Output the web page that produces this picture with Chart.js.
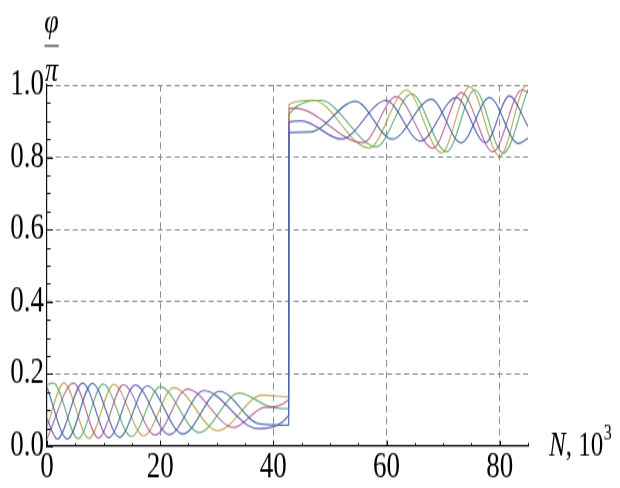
<!DOCTYPE html>
<html>
<head>
<meta charset="utf-8">
<script src="https://cdn.jsdelivr.net/npm/chart.js@4"></script>
<style>
  html, body { margin: 0; padding: 0; background: #fff; }
</style>
</head>
<body>
<!-- the reference is stretched vertically, so the chart is drawn 620x362 and shown at 620x488 -->
<canvas id="myChart" width="620" height="362" style="width:620px;height:488px;display:block"></canvas>
<script>
// axis ticks
const nTicks = [0, 20, 40, 60, 80];
const nMinorTicks = [5, 10, 15, 25, 30, 35, 45, 50, 55, 65, 70, 75, 85];
const phiTicks = [0, 0.2, 0.4, 0.6, 0.8, 1.0];
const phiMinorTicks = [0.05, 0.1, 0.15, 0.25, 0.3, 0.35, 0.45, 0.5, 0.55, 0.65, 0.7, 0.75, 0.85, 0.9, 0.95];

// curves: N (in 10^3) and phi/pi, read at the turning points
const nBlue = [0, 1.8, 6.3, 10.9, 15.6, 21.6, 27.7, 37.2, 42.7, 42.75, 45.0, 52.0, 59.9, 66.0, 72.3, 77.5, 81.7, 85];
const phiBlue = [0.076, 0.020, 0.175, 0.024, 0.169, 0.032, 0.154, 0.049, 0.085, 0.897, 0.901, 0.850, 0.957, 0.845, 0.965, 0.840, 0.970, 0.885];

const nMagenta = [0, 4.7, 9.1, 13.5, 19.1, 24.8, 33.0, 38.5, 42.7, 42.75, 44.0, 55.8, 61.7, 68.2, 73.2, 78.8, 83.9, 85];
const phiMagenta = [0.021, 0.175, 0.023, 0.170, 0.031, 0.158, 0.052, 0.108, 0.129, 0.935, 0.935, 0.840, 0.968, 0.825, 0.979, 0.815, 0.986, 0.980];

const nOlive = [0, 3.0, 7.4, 11.8, 17.1, 22.4, 30.2, 38.0, 42.7, 42.75, 47.0, 56.9, 63.5, 69.7, 74.7, 80.0, 84.8, 85];
const phiOlive = [0.056, 0.175, 0.022, 0.171, 0.029, 0.162, 0.043, 0.141, 0.137, 0.946, 0.958, 0.825, 0.986, 0.812, 0.995, 0.803, 1.0, 0.999];

const nGreen = [0, 1.1, 5.5, 9.9, 14.9, 20.0, 26.9, 33.9, 39.8, 42.7, 42.75, 48.4, 58.2, 64.4, 70.6, 75.6, 80.6, 85];
const phiGreen = [0.170, 0.175, 0.021, 0.172, 0.027, 0.165, 0.038, 0.147, 0.107, 0.104, 0.919, 0.957, 0.829, 0.975, 0.815, 0.986, 0.811, 0.988];

const nSteel = [0, 3.6, 8.0, 12.8, 17.7, 24.0, 30.5, 37.5, 42.7, 42.75, 46.5, 54.5, 61.0, 67.9, 73.2, 78.2, 83.3, 85];
const phiSteel = [0.163, 0.020, 0.174, 0.025, 0.167, 0.034, 0.152, 0.062, 0.058, 0.868, 0.870, 0.955, 0.850, 0.960, 0.840, 0.965, 0.838, 0.852];

function points(ns, phis) {
  return ns.map((n, i) => ({ x: n, y: phis[i] }));
}

function curve(ns, phis, color) {
  return {
    data: points(ns, phis),
    borderColor: color,
    borderWidth: 1.2,
    pointRadius: 0,
    fill: false,
    cubicInterpolationMode: 'monotone'
  };
}

// small inward tick marks and the axis names
const frameExtras = {
  id: 'frameExtras',
  afterDraw(chart) {
    const { ctx, chartArea } = chart;
    const xs = chart.scales.x;
    const ys = chart.scales.y;
    ctx.save();
    ctx.strokeStyle = '#111';
    ctx.lineWidth = 1;
    ctx.beginPath();
    nMinorTicks.forEach(v => {
      const p = Math.round(xs.getPixelForValue(v)) + 0.5;
      ctx.moveTo(p, chartArea.bottom);
      ctx.lineTo(p, chartArea.bottom - 2.5);
    });
    nTicks.forEach(v => {
      const p = Math.round(xs.getPixelForValue(v)) + 0.5;
      ctx.moveTo(p, chartArea.bottom);
      ctx.lineTo(p, chartArea.bottom - 4);
    });
    phiMinorTicks.forEach(v => {
      const p = Math.round(ys.getPixelForValue(v)) + 0.5;
      ctx.moveTo(chartArea.left, p);
      ctx.lineTo(chartArea.left + 3.5, p);
    });
    phiTicks.forEach(v => {
      const p = Math.round(ys.getPixelForValue(v)) + 0.5;
      ctx.moveTo(chartArea.left, p);
      ctx.lineTo(chartArea.left + 6, p);
    });
    ctx.stroke();

    ctx.fillStyle = '#000';
    ctx.textBaseline = 'alphabetic';
    ctx.textAlign = 'left';
    ctx.font = 'italic 25px "Liberation Serif"';
    ctx.fillText('N', 549, 338);
    let x = 549 + ctx.measureText('N').width;
    ctx.font = '25px "Liberation Serif"';
    ctx.fillText(', 10', x, 338);
    x += ctx.measureText(', 10').width;
    ctx.font = '16px "Liberation Serif"';
    ctx.fillText('3', x + 0.5, 326);

    ctx.textAlign = 'center';
    ctx.font = 'italic 26px "Liberation Serif"';
    ctx.fillText('φ', 51.5, 24);
    ctx.fillText('π', 51.5, 59.5);
    ctx.beginPath();
    ctx.moveTo(44.5, 34);
    ctx.lineTo(58.8, 34);
    ctx.stroke();
    ctx.restore();
  }
};

const gridColor = ctx => (ctx.tick && ctx.tick.value === 0) ? 'rgba(0,0,0,0)' : 'rgb(140,140,140)';

const ctx = document.getElementById('myChart');
new Chart(ctx, {
  type: 'line',
  data: {
    datasets: [
      curve(nSteel, phiSteel, 'rgba(70,105,165,0.9)'),
      curve(nBlue, phiBlue, 'rgba(85,85,175,0.85)'),
      curve(nMagenta, phiMagenta, 'rgba(175,80,135,0.8)'),
      curve(nOlive, phiOlive, 'rgba(180,160,70,0.85)'),
      curve(nGreen, phiGreen, 'rgba(85,170,105,0.85)')
    ]
  },
  options: {
    responsive: false,
    animation: false,
    layout: { padding: { top: 63, right: 92, left: 0, bottom: 0 } },
    plugins: {
      legend: { display: false },
      tooltip: { enabled: false }
    },
    scales: {
      x: {
        type: 'linear',
        min: 0,
        max: 85,
        afterBuildTicks: s => { s.ticks = nTicks.map(v => ({ value: v })); },
        afterFit: s => { s.height = 31; },
        ticks: {
          padding: 0,
          color: '#000',
          font: { family: 'Liberation Serif', size: 27, lineHeight: 1.15 },
          maxRotation: 0,
          callback: v => String(v)
        },
        grid: { color: gridColor, lineWidth: 1, drawTicks: false },
        border: { display: true, color: '#111', width: 1.2, dash: [5, 3.5] }
      },
      y: {
        min: 0,
        max: 1,
        afterBuildTicks: s => { s.ticks = phiTicks.map(v => ({ value: v })); },
        afterFit: s => { s.width = 47; },
        ticks: {
          padding: 3,
          color: '#000',
          font: { family: 'Liberation Serif', size: 27 },
          callback: v => Number(v).toFixed(1)
        },
        grid: { color: gridColor, lineWidth: 1, drawTicks: false },
        border: { display: true, color: '#111', width: 1.2, dash: [5, 3.5] }
      }
    }
  },
  plugins: [frameExtras]
});
</script>
</body>
</html>
